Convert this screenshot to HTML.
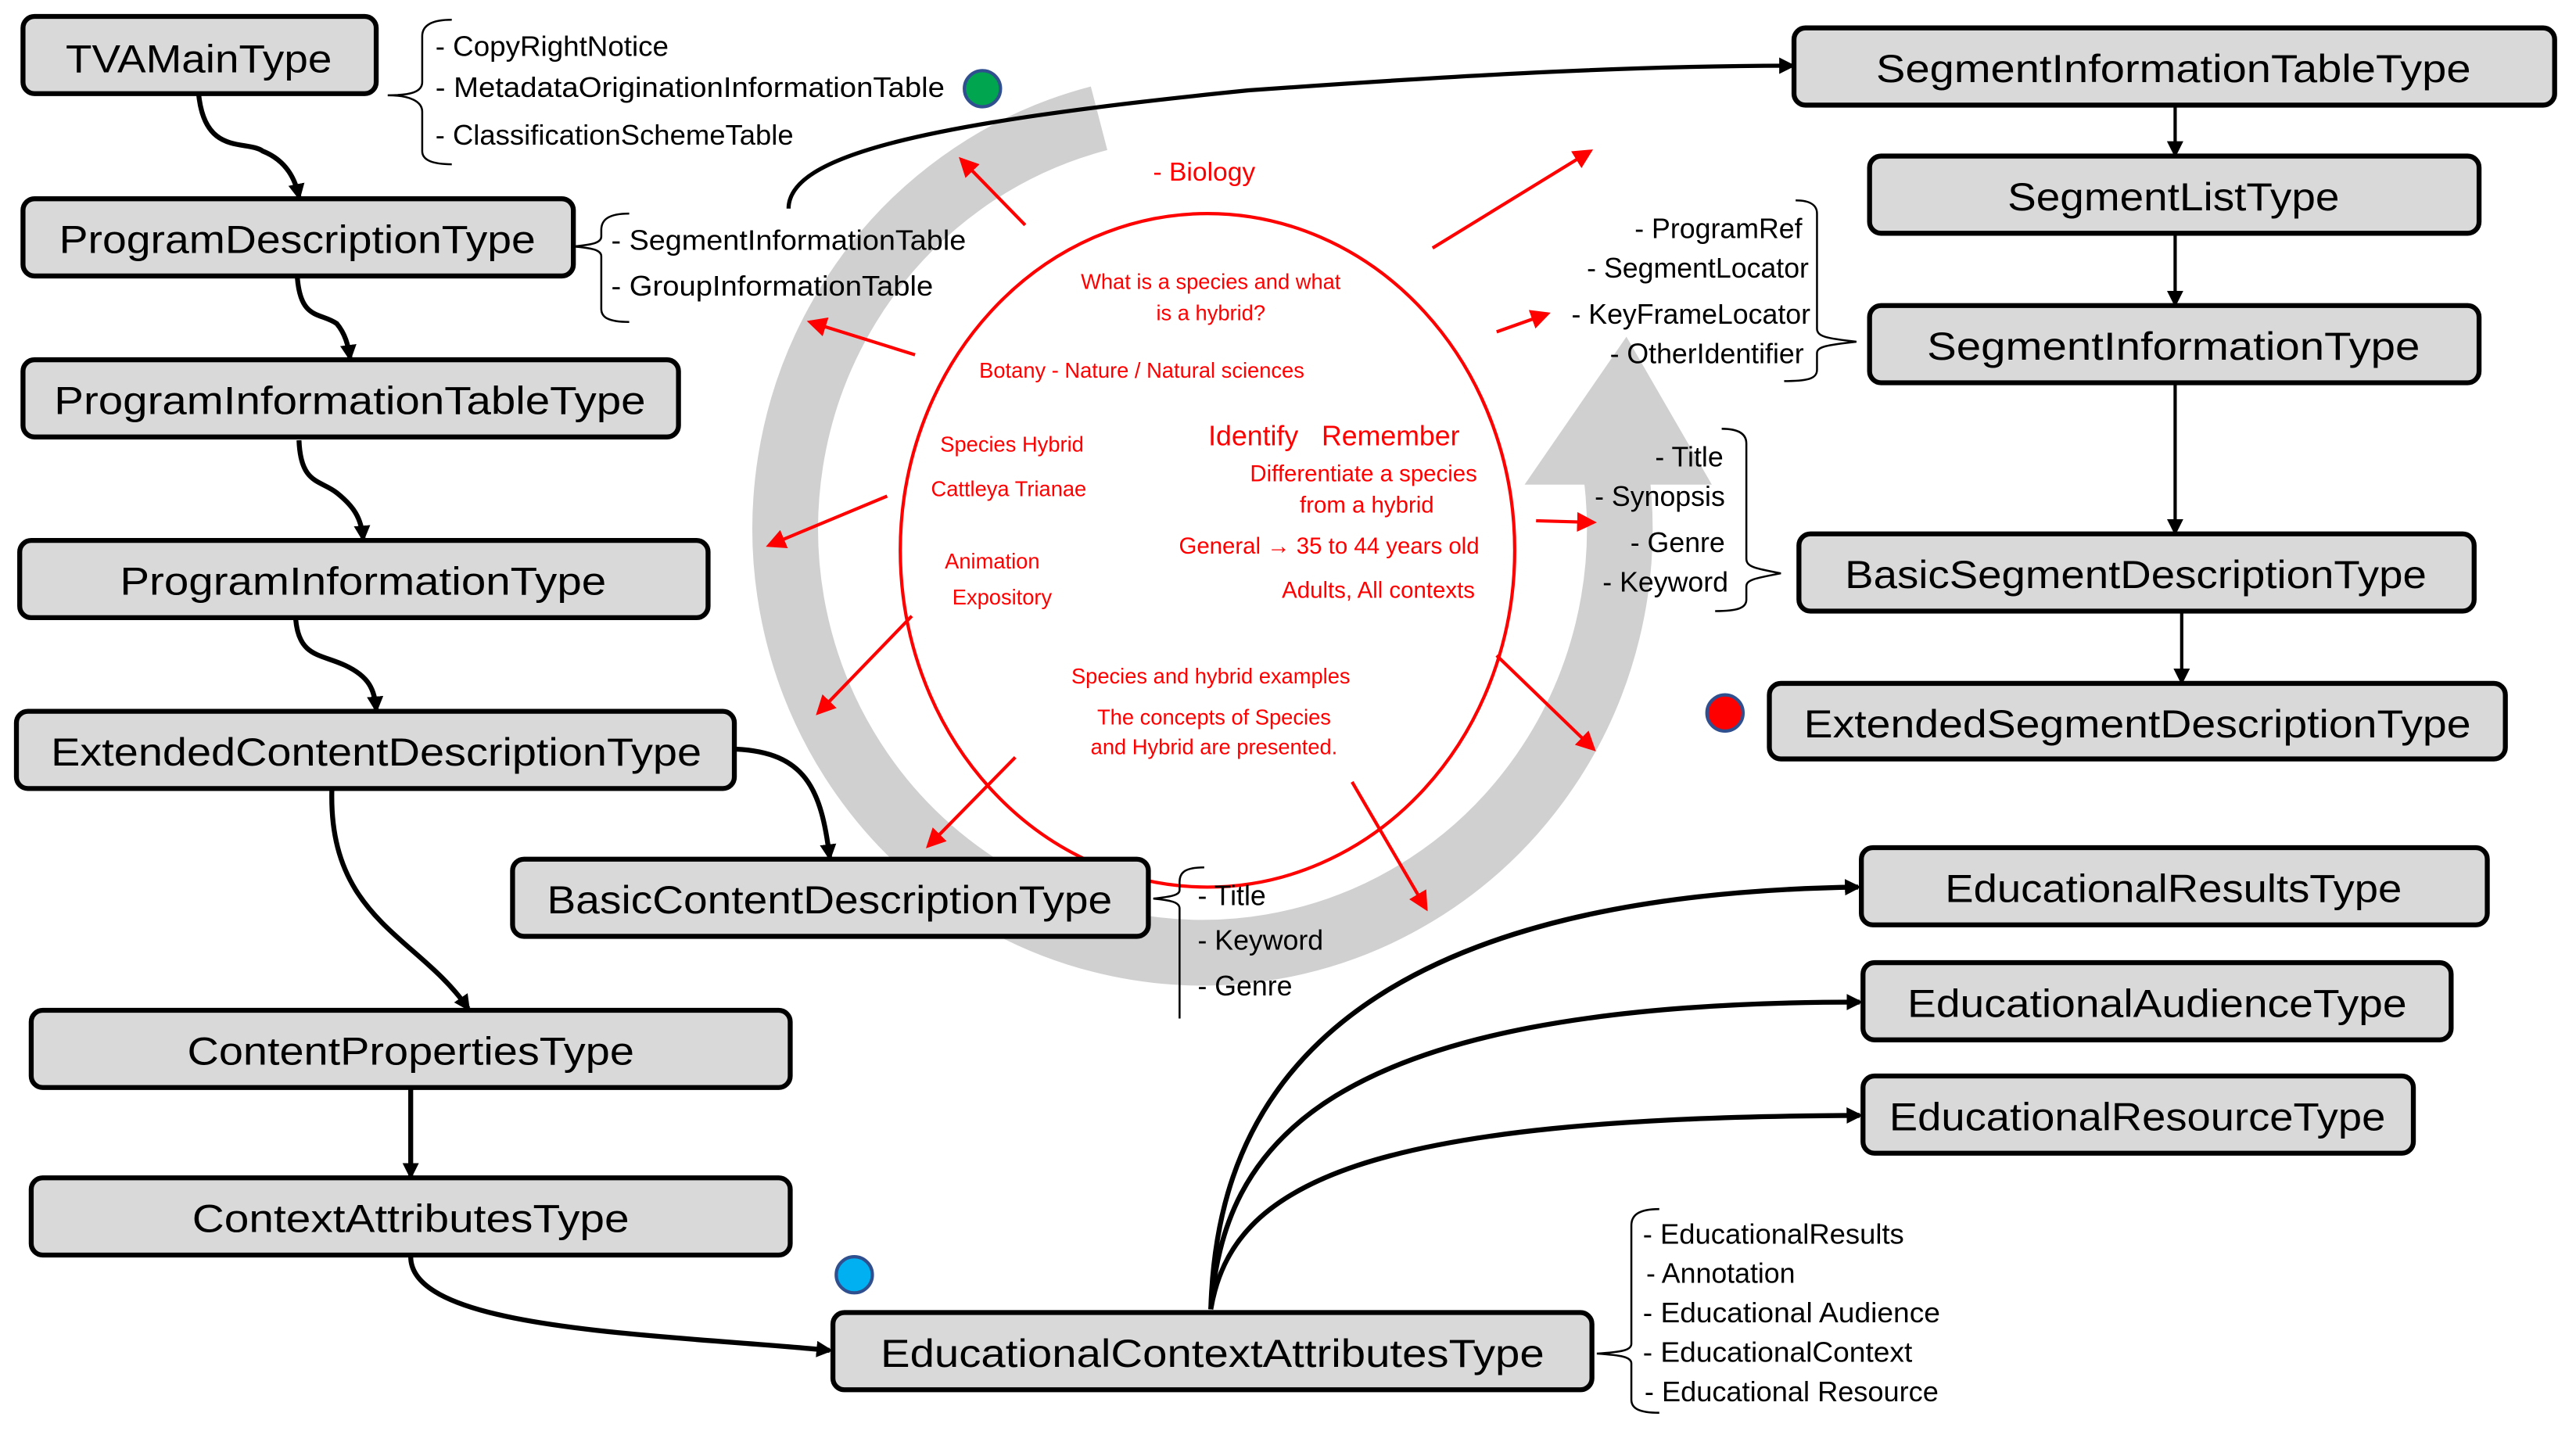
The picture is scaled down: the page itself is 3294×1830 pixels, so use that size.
<!DOCTYPE html>
<html><head><meta charset="utf-8"><style>html,body{margin:0;padding:0;background:#fff}svg{display:block}</style></head><body>
<svg width="3294" height="1830" viewBox="0 0 1568 871.1" preserveAspectRatio="none" xmlns="http://www.w3.org/2000/svg" font-family="Liberation Sans, sans-serif">
<defs>
<marker id="ab" markerWidth="10" markerHeight="10" refX="8" refY="5" orient="auto" markerUnits="userSpaceOnUse"><path d="M0,0 L10,5 L0,10 z" fill="#000"/></marker>
<marker id="ar" markerWidth="12" markerHeight="12" refX="10" refY="6" orient="auto" markerUnits="userSpaceOnUse"><path d="M0,0 L12,6 L0,12 z" fill="#f00"/></marker>
</defs>
<!-- grey circular arrow -->
<path d="M669,72 A254,258 0 1 0 984,290" fill="none" stroke="#d0d0d0" stroke-width="40"/>
<polygon points="928,295 1042,295 990,205" fill="#d0d0d0"/>
<!-- red circle -->
<ellipse cx="735" cy="335" rx="187" ry="205" fill="#fff" stroke="#f00" stroke-width="2"/>
<!-- red arrows -->
<g stroke="#f00" stroke-width="2" marker-end="url(#ar)">
<line x1="624" y1="137" x2="585" y2="97"/>
<line x1="557" y1="216" x2="493" y2="196"/>
<line x1="540" y1="302" x2="468" y2="332"/>
<line x1="555" y1="375" x2="498" y2="434"/>
<line x1="618" y1="461" x2="565" y2="515"/>
<line x1="823" y1="476" x2="868" y2="553"/>
<line x1="911" y1="399" x2="970" y2="456"/>
<line x1="935" y1="317" x2="970" y2="318"/>
<line x1="911" y1="202" x2="942" y2="191"/>
<line x1="872" y1="151" x2="968" y2="92"/>
</g>
<!-- red texts -->
<g fill="#f00" font-size="13" text-anchor="middle">
<text x="733" y="110" font-size="16">- Biology</text>
<text x="737" y="176">What is a species and what</text>
<text x="737" y="195">is a hybrid?</text>
<text x="695" y="230">Botany - Nature / Natural sciences</text>
<text x="616" y="275">Species Hybrid</text>
<text x="614" y="302">Cattleya Trianae</text>
<text x="604" y="346">Animation</text>
<text x="610" y="368">Expository</text>
<text x="812" y="271" font-size="17">Identify &#160; Remember</text>
<text x="830" y="293" font-size="14">Differentiate a species</text>
<text x="832" y="312" font-size="14">from a hybrid</text>
<text x="809" y="337" font-size="14">General → 35 to 44 years old</text>
<text x="839" y="364" font-size="14">Adults, All contexts</text>
<text x="737" y="416">Species and hybrid examples</text>
<text x="739" y="441">The concepts of Species</text>
<text x="739" y="459">and Hybrid are presented.</text>
</g>
<!-- black connectors -->
<g fill="none" stroke="#000" stroke-width="3" marker-end="url(#ab)">
<path d="M121,58 C125,95 150,85 160,92 C175,98 180,110 182,120"/>
<path d="M181,169 C183,195 195,190 205,197 C210,203 212,210 213,218"/>
<path d="M182,268 C183,295 195,292 205,300 C215,308 220,315 221,328"/>
<path d="M180,377 C182,400 195,398 210,405 C225,412 228,420 229,432"/>
<path d="M448,456 C490,458 500,480 505,522"/>
<path d="M202,481 C200,560 255,570 285,614"/>
<path d="M250,663 L250,716"/>
<path d="M250,765 C250,810 400,812 505,822"/>
<path d="M737,797 C740,700 780,545 1131,540"/>
<path d="M737,797 C745,700 800,610 1132,610"/>
<path d="M737,797 C750,720 830,680 1132,679"/>
<path d="M1324,65 L1324,94" stroke-width="2"/>
<path d="M1324,143 L1324,185" stroke-width="2"/>
<path d="M1324,234 L1324,324" stroke-width="2"/>
<path d="M1328,373 L1328,415" stroke-width="2"/>
<path d="M480,127 C480,95 560,75 760,55 C900,45 1000,40 1091,40" stroke-width="2.5"/>
</g>
<!-- boxes -->
<g fill="#d9d9d9" stroke="#000" stroke-width="3">
<rect x="14" y="10" width="215" height="47" rx="7"/>
<rect x="14" y="121" width="335" height="47" rx="7"/>
<rect x="14" y="219" width="399" height="47" rx="7"/>
<rect x="12" y="329" width="419" height="47" rx="7"/>
<rect x="10" y="433" width="437" height="47" rx="7"/>
<rect x="312" y="523" width="387" height="47" rx="7"/>
<rect x="19" y="615" width="462" height="47" rx="7"/>
<rect x="19" y="717" width="462" height="47" rx="7"/>
<rect x="507" y="799" width="462" height="47" rx="7"/>
<rect x="1092" y="17" width="463" height="47" rx="7"/>
<rect x="1138" y="95" width="371" height="47" rx="7"/>
<rect x="1138" y="186" width="371" height="47" rx="7"/>
<rect x="1095" y="325" width="411" height="47" rx="7"/>
<rect x="1077" y="416" width="448" height="46" rx="7"/>
<rect x="1133" y="516" width="381" height="47" rx="7"/>
<rect x="1134" y="586" width="358" height="47" rx="7"/>
<rect x="1134" y="655" width="335" height="47" rx="7"/>
</g>
<g font-size="24" text-anchor="middle" fill="#000">
<text x="121" y="44" textLength="162" lengthAdjust="spacingAndGlyphs">TVAMainType</text>
<text x="181" y="154" textLength="290" lengthAdjust="spacingAndGlyphs">ProgramDescriptionType</text>
<text x="213" y="252" textLength="360" lengthAdjust="spacingAndGlyphs">ProgramInformationTableType</text>
<text x="221" y="362" textLength="296" lengthAdjust="spacingAndGlyphs">ProgramInformationType</text>
<text x="229" y="466" textLength="396" lengthAdjust="spacingAndGlyphs">ExtendedContentDescriptionType</text>
<text x="505" y="556" textLength="344" lengthAdjust="spacingAndGlyphs">BasicContentDescriptionType</text>
<text x="250" y="648" textLength="272" lengthAdjust="spacingAndGlyphs">ContentPropertiesType</text>
<text x="250" y="750" textLength="266" lengthAdjust="spacingAndGlyphs">ContextAttributesType</text>
<text x="738" y="832" textLength="404" lengthAdjust="spacingAndGlyphs">EducationalContextAttributesType</text>
<text x="1323" y="50" textLength="362" lengthAdjust="spacingAndGlyphs">SegmentInformationTableType</text>
<text x="1323" y="128" textLength="202" lengthAdjust="spacingAndGlyphs">SegmentListType</text>
<text x="1323" y="219" textLength="300" lengthAdjust="spacingAndGlyphs">SegmentInformationType</text>
<text x="1300" y="358" textLength="354" lengthAdjust="spacingAndGlyphs">BasicSegmentDescriptionType</text>
<text x="1301" y="449" textLength="406" lengthAdjust="spacingAndGlyphs">ExtendedSegmentDescriptionType</text>
<text x="1323" y="549" textLength="278" lengthAdjust="spacingAndGlyphs">EducationalResultsType</text>
<text x="1313" y="619" textLength="304" lengthAdjust="spacingAndGlyphs">EducationalAudienceType</text>
<text x="1301" y="688" textLength="302" lengthAdjust="spacingAndGlyphs">EducationalResourceType</text>
</g>
<!-- braces -->
<g fill="none" stroke="#000" stroke-width="1.2">
<path d="M275,12 C262,12 257,16 257,22 L257,50 C257,56 250,58 236,58 C250,58 257,62 257,68 L257,92 C257,97 262,100 275,100"/>
<path d="M383,130 C370,130 366,134 366,140 L366,144 C366,148 360,149 349,150 C360,151 366,152 366,156 L366,188 C366,193 370,196 383,196"/>
<path d="M733,528 C720,528 718,532 718,537 L718,542 C718,545 712,546 702,547 C712,548 718,549 718,553 L718,620"/>
<path d="M1093,122 C1102,122 1106,125 1106,130 L1106,200 C1106,205 1112,206 1130,208 C1112,210 1106,211 1106,215 L1106,225 C1106,230 1102,232 1086,232"/>
<path d="M1048,261 C1058,261 1063,264 1063,270 L1063,340 C1063,345 1068,346 1084,349 C1068,352 1063,353 1063,357 L1063,365 C1063,370 1058,372 1044,372"/>
<path d="M1010,736 C997,736 993,740 993,746 L993,818 C993,822 987,823 972,824 C987,825 993,826 993,830 L993,852 C993,857 997,860 1010,860"/>
</g>
<g font-size="17" fill="#000">
<text x="265" y="34" textLength="142" lengthAdjust="spacingAndGlyphs">- CopyRightNotice</text>
<text x="265" y="59" textLength="310" lengthAdjust="spacingAndGlyphs">- MetadataOriginationInformationTable</text>
<text x="265" y="88" textLength="218" lengthAdjust="spacingAndGlyphs">- ClassificationSchemeTable</text>
<text x="372" y="152" textLength="216" lengthAdjust="spacingAndGlyphs">- SegmentInformationTable</text>
<text x="372" y="180" textLength="196" lengthAdjust="spacingAndGlyphs">- GroupInformationTable</text>
<text x="729" y="551">- Title</text>
<text x="729" y="578">- Keyword</text>
<text x="729" y="606">- Genre</text>
<text x="1097" y="145" text-anchor="end">- ProgramRef</text>
<text x="1101" y="169" text-anchor="end">- SegmentLocator</text>
<text x="1102" y="197" text-anchor="end">- KeyFrameLocator</text>
<text x="1098" y="221" text-anchor="end">- OtherIdentifier</text>
<text x="1049" y="284" text-anchor="end">- Title</text>
<text x="1050" y="308" text-anchor="end">- Synopsis</text>
<text x="1050" y="336" text-anchor="end">- Genre</text>
<text x="1052" y="360" text-anchor="end">- Keyword</text>
<text x="1000" y="757" textLength="159" lengthAdjust="spacingAndGlyphs">- EducationalResults</text>
<text x="1002" y="781">- Annotation</text>
<text x="1000" y="805" textLength="181" lengthAdjust="spacingAndGlyphs">- Educational Audience</text>
<text x="1000" y="829" textLength="164" lengthAdjust="spacingAndGlyphs">- EducationalContext</text>
<text x="1001" y="853" textLength="179" lengthAdjust="spacingAndGlyphs">- Educational Resource</text>
</g>
<circle cx="598" cy="54" r="11" fill="#00a550" stroke="#2f4f8f" stroke-width="2"/>
<circle cx="1050" cy="434" r="11" fill="#f00" stroke="#2f4f8f" stroke-width="2"/>
<circle cx="520" cy="776" r="11" fill="#00b0f0" stroke="#2f4f8f" stroke-width="2"/>
</svg>
</body></html>
